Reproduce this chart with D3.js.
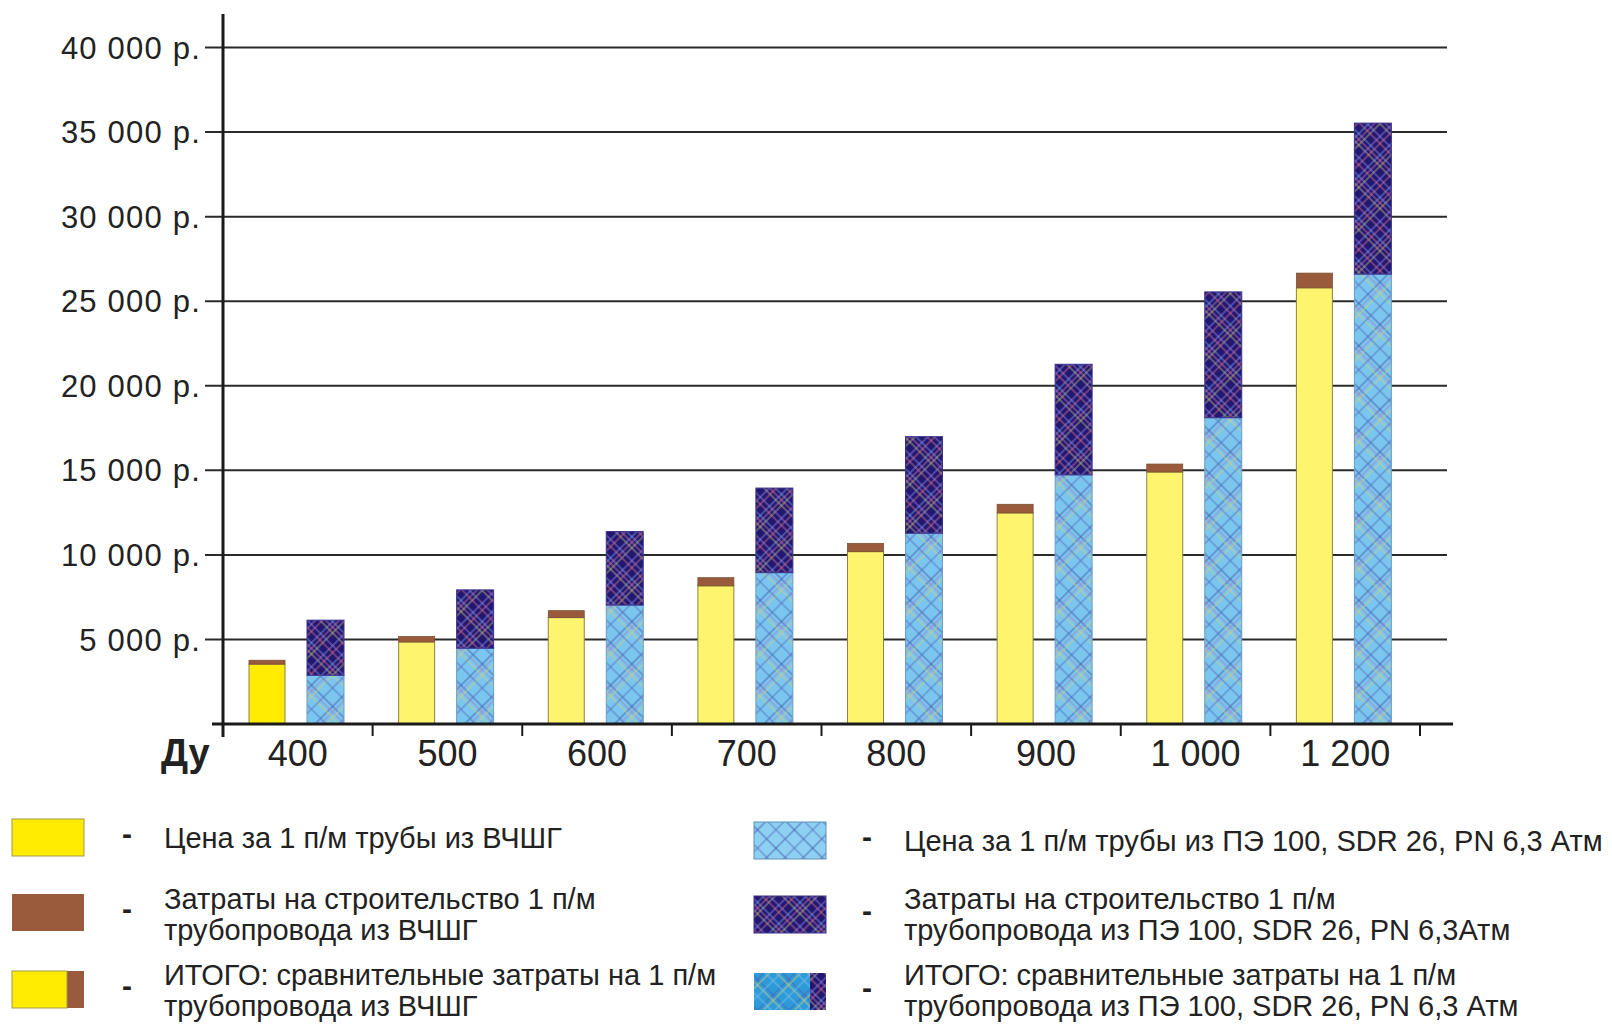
<!DOCTYPE html>
<html>
<head>
<meta charset="utf-8">
<script src="https://cdn.jsdelivr.net/npm/d3@7"></script>
<style>
  body { margin: 0; background: #fff; }
  svg { display: block; font-family: "Liberation Sans", Arial, sans-serif; }
</style>
</head>
<body>
<div id="chart"></div>
<script>
// diameters (Ду)
const categories = ["400", "500", "600", "700", "800", "900", "1 000", "1 200"];
// ductile iron (ВЧШГ): pipe price and construction cost, руб per 1 m
const ductilePrice = [3540, 4850, 6290, 8170, 10190, 12480, 14900, 25790];
const ductileBuild = [230, 320, 410, 480, 490, 510, 470, 870];
// PE 100 SDR 26: pipe price and construction cost
const pePrice = [2880, 4480, 7030, 8950, 11280, 14730, 18110, 26600];
const peBuild = [3260, 3450, 4350, 5000, 5710, 6540, 7440, 8930];
const yTicks = [5000, 10000, 15000, 20000, 25000, 30000, 35000, 40000];

const legendLeft = [
  { key: "yellow", lines: ["Цена за 1 п/м трубы из ВЧШГ"] },
  { key: "brown", lines: ["Затраты на строительство 1 п/м", "трубопровода из ВЧШГ"] },
  { key: "ductTotal", lines: ["ИТОГО: сравнительные затраты на 1 п/м", "трубопровода из ВЧШГ"] }
];
const legendRight = [
  { key: "pe", lines: ["Цена за 1 п/м трубы из ПЭ 100, SDR 26, PN 6,3 Атм"] },
  { key: "peBuild", lines: ["Затраты на строительство 1 п/м", "трубопровода из ПЭ 100, SDR 26, PN 6,3Атм"] },
  { key: "peTotal", lines: ["ИТОГО: сравнительные затраты на 1 п/м", "трубопровода из ПЭ 100, SDR 26, PN 6,3 Атм"] }
];

const W = 1612, H = 1026;
const svg = d3.select("#chart").append("svg")
  .attr("width", W)
  .attr("height", H);

const defs = svg.append("defs");

// diagonal plaid pattern
function plaid(id, base, lines, size, sw) {
  const p = defs.append("pattern")
    .attr("id", id)
    .attr("patternUnits", "userSpaceOnUse")
    .attr("width", size)
    .attr("height", size)
    .attr("patternTransform", "rotate(45)");
  p.append("rect").attr("width", size).attr("height", size).attr("fill", base);
  lines.forEach(function (l) {
    p.append("line").attr("x1", 0).attr("x2", size).attr("y1", l[0]).attr("y2", l[0])
      .attr("stroke", l[1]).attr("stroke-width", sw).attr("opacity", 0.8);
    p.append("line").attr("y1", 0).attr("y2", size).attr("x1", l[0] + 5).attr("x2", l[0] + 5)
      .attr("stroke", l[1]).attr("stroke-width", sw).attr("opacity", 0.8);
  });
}
plaid("peLight", "#7ac6ee", [[2, "#3d4ea6"], [6, "#a77cbf"], [10, "#cfd07a"], [19, "#5468bc"]], 30, 1);
plaid("peDark", "#22186f", [[2, "#7fa2ee"], [6, "#d27ba6"], [10, "#c9c283"], [19, "#9c8ce8"], [24, "#e07494"]], 30, 1);
plaid("peLegend", "#8dd0f2", [[3, "#3d4ea6"], [16, "#5468bc"]], 26, 1);
plaid("peMid", "#2e9bd8", [[2, "#4a5ab0"], [6, "#d8d07a"], [14, "#7cc0f0"]], 22, 1);

const x = d3.scaleBand()
  .domain(categories)
  .range([223, 1420])
  .padding(0);

const y = d3.scaleLinear()
  .domain([0, 40000])
  .range([724, 47.5]);

const bw = 36;
const offYellow = 26, offBlue = 84;

// gridlines + y labels
const fmt = function (v) { return d3.format(",")(v).replace(/,/g, " ") + " р."; };
const grid = svg.append("g").attr("class", "grid");
grid.selectAll("line")
  .data(yTicks)
  .enter().append("line")
  .attr("x1", 205)
  .attr("x2", 1447)
  .attr("y1", function (d) { return y(d); })
  .attr("y2", function (d) { return y(d); })
  .attr("stroke", "#2a2a2a")
  .attr("stroke-width", 2);

grid.selectAll("text")
  .data(yTicks)
  .enter().append("text")
  .attr("x", 201)
  .attr("y", function (d) { return y(d); })
  .attr("dy", "0.36em")
  .attr("text-anchor", "end")
  .attr("font-size", 31)
  .attr("letter-spacing", 1.2)
  .attr("fill", "#222")
  .text(fmt);

// bars
const groups = svg.append("g").attr("class", "bars")
  .selectAll("g")
  .data(categories)
  .enter().append("g")
  .attr("transform", function (d) { return "translate(" + x(d) + ",0)"; });

groups.append("rect")
  .attr("x", offYellow)
  .attr("width", bw)
  .attr("y", function (d, i) { return y(ductilePrice[i]); })
  .attr("height", function (d, i) { return y(0) - y(ductilePrice[i]); })
  .attr("fill", function (d, i) { return i === 0 ? "#ffec00" : "#fff46e"; })
  .attr("stroke", "#8c8440")
  .attr("stroke-width", 1);

groups.append("rect")
  .attr("x", offYellow)
  .attr("width", bw)
  .attr("y", function (d, i) { return y(ductilePrice[i] + ductileBuild[i]); })
  .attr("height", function (d, i) { return y(ductilePrice[i]) - y(ductilePrice[i] + ductileBuild[i]); })
  .attr("fill", "#9a5a3c")
  .attr("stroke", "#7a5030")
  .attr("stroke-width", 0.8);

groups.append("rect")
  .attr("x", offBlue)
  .attr("width", bw + 1)
  .attr("y", function (d, i) { return y(pePrice[i]); })
  .attr("height", function (d, i) { return y(0) - y(pePrice[i]); })
  .attr("fill", "url(#peLight)")
  .attr("stroke", "#6d9cc4")
  .attr("stroke-width", 1);

groups.append("rect")
  .attr("x", offBlue)
  .attr("width", bw + 1)
  .attr("y", function (d, i) { return y(pePrice[i] + peBuild[i]); })
  .attr("height", function (d, i) { return y(pePrice[i]) - y(pePrice[i] + peBuild[i]); })
  .attr("fill", "url(#peDark)")
  .attr("stroke", "#3a3290")
  .attr("stroke-width", 1);

// axes
const xAxis = d3.axisBottom(x).tickSize(0).tickPadding(0);
const xg = svg.append("g")
  .attr("class", "axis axis--x")
  .attr("transform", "translate(0,724)")
  .call(xAxis);
xg.select(".domain").remove();
xg.selectAll("text")
  .attr("y", 42)
  .attr("dy", 0)
  .attr("font-size", 36)
  .attr("font-family", "Liberation Sans, Arial, sans-serif")
  .attr("fill", "#222");

xg.selectAll(".sep")
  .data(categories)
  .enter().append("line")
  .attr("class", "sep")
  .attr("x1", function (d) { return x(d) + x.bandwidth(); })
  .attr("x2", function (d) { return x(d) + x.bandwidth(); })
  .attr("y1", 0)
  .attr("y2", 12)
  .attr("stroke", "#1a1a1a")
  .attr("stroke-width", 2);

svg.append("line")
  .attr("x1", 212).attr("x2", 1453)
  .attr("y1", 724).attr("y2", 724)
  .attr("stroke", "#1a1a1a")
  .attr("stroke-width", 3);

svg.append("line")
  .attr("x1", 223).attr("x2", 223)
  .attr("y1", 14).attr("y2", 737)
  .attr("stroke", "#1a1a1a")
  .attr("stroke-width", 3);

svg.append("text")
  .attr("x", 161)
  .attr("y", 766)
  .attr("font-size", 38)
  .attr("font-weight", "bold")
  .attr("fill", "#222")
  .text("Ду");

// legend
function swatch(g, key) {
  const w = 72, h = 37;
  if (key === "yellow") {
    g.append("rect").attr("width", w).attr("height", h).attr("fill", "#ffec00").attr("stroke", "#a09a50");
  } else if (key === "brown") {
    g.append("rect").attr("width", w).attr("height", h).attr("fill", "#9a5a3c");
  } else if (key === "ductTotal") {
    g.append("rect").attr("width", w).attr("height", h).attr("fill", "#9a5a3c");
    g.append("rect").attr("width", 55).attr("height", h).attr("fill", "#ffec00").attr("stroke", "#a09a50");
  } else if (key === "pe") {
    g.append("rect").attr("width", w).attr("height", h).attr("fill", "url(#peLegend)").attr("stroke", "#5c90b8");
  } else if (key === "peBuild") {
    g.append("rect").attr("width", w).attr("height", h).attr("fill", "url(#peDark)").attr("stroke", "#3a3290");
  } else {
    g.append("rect").attr("width", w).attr("height", h).attr("fill", "url(#peDark)");
    g.append("rect").attr("width", 56).attr("height", h).attr("fill", "url(#peMid)");
  }
}

const rowY = [[819, 848], [894, 909], [971, 985]];
const rowYR = [[822, 851], [896, 909], [973, 985]];

function legendColumn(items, x0, tx, dashX, rows) {
  const g = svg.append("g").attr("class", "legend");
  items.forEach(function (it, i) {
    const s = g.append("g").attr("transform", "translate(" + x0 + "," + rows[i][0] + ")");
    swatch(s, it.key);
    g.append("text")
      .attr("x", dashX)
      .attr("y", rows[i][0] + 25)
      .attr("font-size", 30)
      .attr("font-weight", "bold")
      .attr("fill", "#222")
      .text("-");
    const t = g.append("text")
      .attr("x", tx)
      .attr("y", rows[i][1])
      .attr("font-size", 29)
      .attr("fill", "#222");
    it.lines.forEach(function (ln, j) {
      t.append("tspan").attr("x", tx).attr("dy", j === 0 ? 0 : 31).text(ln);
    });
  });
}
legendColumn(legendLeft, 12, 164, 122, rowY);
legendColumn(legendRight, 754, 904, 862, rowYR);
</script>
</body>
</html>
